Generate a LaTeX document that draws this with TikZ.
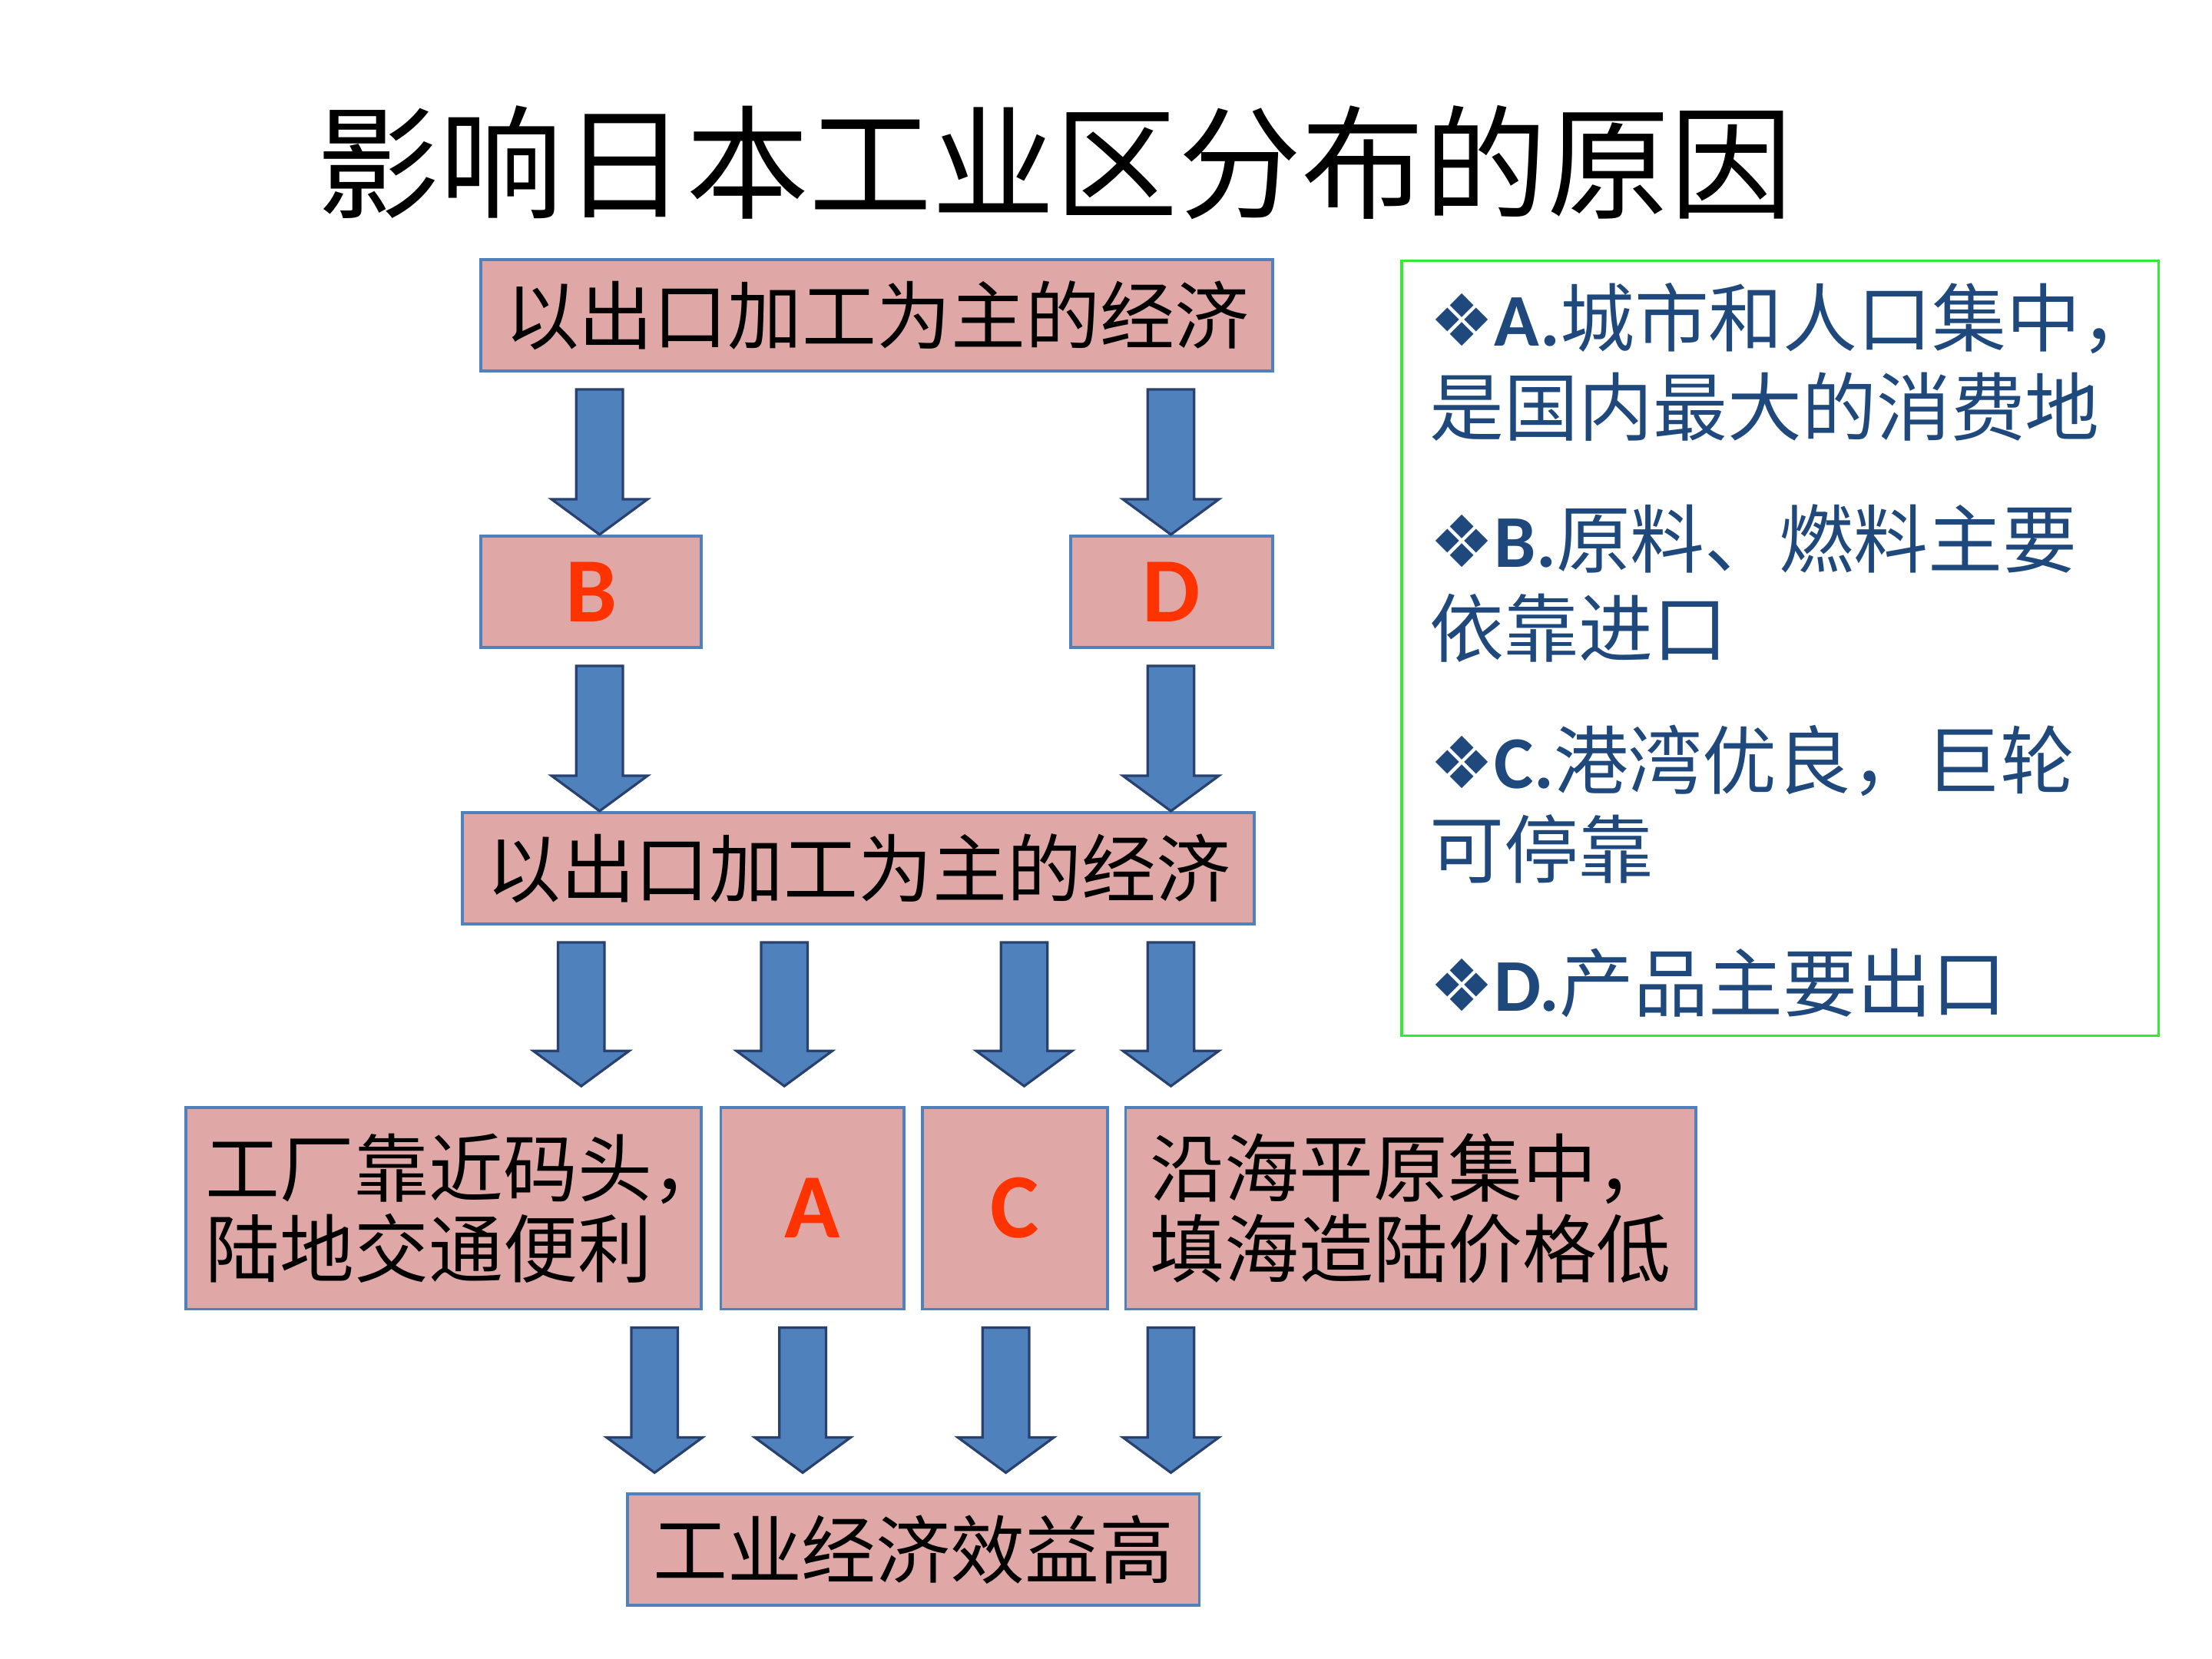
\documentclass[tikz,border=0pt]{standalone}
\usepackage{fontspec}
\setmainfont{Noto Sans CJK SC}
\newfontfamily\latin{Carlito}
\newfontfamily\symfont{DejaVu Sans}
\usetikzlibrary{calc}

\definecolor{boxpink}{RGB}{223,168,167}
\definecolor{boxblue}{RGB}{79,129,189}
\definecolor{arrowblue}{RGB}{79,129,189}
\definecolor{arrowdark}{RGB}{40,65,110}
\definecolor{letterred}{RGB}{255,51,0}
\definecolor{reasonblue}{RGB}{31,73,125}
\definecolor{framegreen}{RGB}{51,235,51}

\tikzset{
  box/.style={draw=boxblue, line width=0.6pt, fill=boxpink, inner sep=0pt,
    align=left, font=\fontsize{15pt}{16.2pt}\selectfont},
  letter/.style={box, text=letterred, font=\latin\bfseries\fontsize{18.5pt}{20pt}\selectfont},
  blockarrow/.style={draw=arrowdark, line width=0.5pt, fill=arrowblue, line join=miter},
  reason/.style={anchor=west, inner sep=0pt, text=reasonblue, align=left,
    font=\fontsize{15pt}{17.9pt}\selectfont},
}

% block arrow: [gap above target]{x}{from}{to}
\newcommand{\blockarr}[4][0]{%
  \coordinate (s) at ($(#3.south -| #2,0)+(0,12)$);
  \coordinate (e) at ($(#4.north -| #2,0)+(0,-#1)$);
  \draw[blockarrow] ($(s)+(-16.5,0)$) -- ($(s)+(16.5,0)$) -- ($(e)+(16.5,-25)$)
    -- ($(e)+(34,-25)$) -- (e) -- ($(e)+(-34,-25)$) -- ($(e)+(-16.5,-25)$) -- cycle;}
\newcommand{\hc}{\makebox[0.4em][l]{，}}
\newcommand{\dia}{{\symfont\fontsize{14.5pt}{17.9pt}\selectfont ❖}}

\begin{document}
\begin{tikzpicture}[x=0.01cm, y=-0.01cm]
\useasboundingbox (0,0) rectangle (1568,1176);

\node (title) at (748,115) [font=\fontsize{24.8pt}{30pt}\selectfont] {影响日本工业区分布的原因};

\node (top) at (621.5,223.5) [box, minimum width=5.61cm, minimum height=0.79cm] {以出口加工为主的经济};
\node (nB) at (419,419.5) [letter, minimum width=1.56cm, minimum height=0.79cm] {B};
\node (nD) at (830.5,419.5) [letter, minimum width=1.43cm, minimum height=0.79cm] {D};
\node (mid) at (608.5,615.5) [box, minimum width=5.61cm, minimum height=0.79cm] {以出口加工为主的经济};
\node (port) at (314.5,856.5) [box, minimum width=3.65cm, minimum height=1.43cm] {工厂靠近码头\hc\\陆地交通便利};
\node (nA) at (576,856.5) [letter, minimum width=1.30cm, minimum height=1.43cm] {A};
\node (nC) at (719.5,856.5) [letter, minimum width=1.31cm, minimum height=1.43cm] {C};
\node (coast) at (1000,856.5) [box, minimum width=4.04cm, minimum height=1.43cm] {沿海平原集中\hc\\填海造陆价格低};
\node (result) at (647.5,1098.5) [box, minimum width=4.05cm, minimum height=0.79cm] {工业经济效益高};

\node (reasons) at (1262,459.5) [draw=framegreen, line width=0.6pt, minimum width=5.36cm, minimum height=5.49cm] {};
\node (rA) at (1013,256.5) [reason] {\dia{\latin\bfseries A.}城市和人口集中，\\是国内最大的消费地};
\node (rB) at (1013,413.5) [reason] {\dia{\latin\bfseries B.}原料、燃料主要\\依靠进口};
\node (rC) at (1013,570) [reason] {\dia{\latin\bfseries C.}港湾优良，巨轮\\可停靠};
\node (rD) at (1013,697) [reason] {\dia{\latin\bfseries D.}产品主要出口};

\blockarr{425}{top}{nB}
\blockarr{830}{top}{nD}
\blockarr{425}{nB}{mid}
\blockarr{830}{nD}{mid}
\foreach \x/\a in {412/port, 556/nA, 726/nC, 830/coast}
  {\blockarr[14]{\x}{mid}{\a}}
\foreach \x/\a in {464/port, 569/nA, 713/nC, 830/coast}
  {\blockarr[14]{\x}{\a}{result}}
\end{tikzpicture}
\end{document}
